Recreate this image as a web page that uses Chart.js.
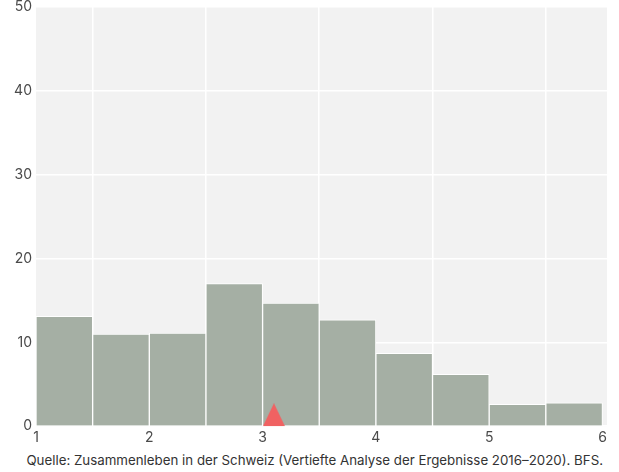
<!DOCTYPE html>
<html>
<head>
<meta charset="utf-8">
<script src="https://cdn.jsdelivr.net/npm/chart.js@4"></script>
<style>
  html, body { margin: 0; padding: 0; background: #fff; }
  #wrap { width: 619px; height: 472px; }
  #plot { position: relative; width: 619px; height: 449px; }
  #source {
    height: 23px; line-height: 23px;
    font-family: Inter, sans-serif; font-size: 13.3px; color: #333;
    text-align: right; padding-right: 16px; white-space: nowrap;
  }
</style>
</head>
<body>
<div id="wrap">
  <div id="plot"><canvas id="chart"></canvas></div>
  <div id="source"></div>
</div>
<script>
// Histogramm: Klassenmitten (Breite 0.5) und Anteile in %
const binCenters = [1.25, 1.75, 2.25, 2.75, 3.25, 3.75, 4.25, 4.75, 5.25, 5.75];
const binValues = [13.1, 11.0, 11.1, 17.0, 14.7, 12.7, 8.7, 6.2, 2.6, 2.8];
const meanValue = 3.1;
const xTicks = [1, 2, 3, 4, 5, 6];
const yTicks = [0, 10, 20, 30, 40, 50];
const sourceText = 'Quelle: Zusammenleben in der Schweiz (Vertiefte Analyse der Ergebnisse 2016–2020). BFS.';

const barColor = '#a5afa4';
const plotBg = '#f2f2f2';
const textColor = '#4a4a4a';

document.getElementById('source').textContent = sourceText;

// Dreieck als Punktbild: untere Hälfte leer, damit die Basis auf der Achse sitzt
function makeTriangle(w, h, color) {
    const c = document.createElement('canvas');
    c.width = w;
    c.height = h * 2;
    const g = c.getContext('2d');
    g.fillStyle = color;
    g.beginPath();
    g.moveTo(w / 2, 0);
    g.lineTo(w, h);
    g.lineTo(0, h);
    g.closePath();
    g.fill();
    return c;
}

const plotBackground = {
    id: 'plotBackground',
    beforeDraw(chart) {
        const { ctx, chartArea: a } = chart;
        ctx.save();
        ctx.fillStyle = plotBg;
        ctx.fillRect(a.left, a.top, a.right - a.left, a.bottom - a.top);
        ctx.restore();
    }
};

const ctx = document.getElementById('chart').getContext('2d');
new Chart(ctx, {
    type: 'bar',
    data: {
        datasets: [
            {
                type: 'scatter',
                data: [{ x: meanValue, y: 0 }],
                pointStyle: makeTriangle(22, 23, '#f06262'),
                order: 0
            },
            {
                data: binCenters.map((x, i) => ({ x, y: binValues[i] })),
                backgroundColor: barColor,
                borderColor: '#ffffff',
                borderWidth: 1,
                borderSkipped: 'bottom',
                categoryPercentage: 1,
                barPercentage: 1,
                order: 1
            }
        ]
    },
    options: {
        responsive: true,
        maintainAspectRatio: false,
        animation: false,
        layout: { padding: { top: 0, right: 12, left: 0, bottom: 0 } },
        scales: {
            x: {
                type: 'linear',
                min: 1,
                max: 6.04,
                offset: false,
                afterBuildTicks: (scale) => { scale.ticks = xTicks.map(v => ({ value: v })); },
                ticks: { color: textColor, font: { family: 'Inter', size: 14 }, padding: 3 },
                grid: { color: '#ffffff', lineWidth: 1.5, drawTicks: false },
                border: { display: false }
            },
            y: {
                min: 0,
                max: 50,
                afterBuildTicks: (scale) => { scale.ticks = yTicks.map(v => ({ value: v })); },
                afterFit: (scale) => {
                    scale.width = 36;
                    scale.paddingTop = 7;
                    scale.paddingBottom = 0;
                },
                ticks: { color: textColor, font: { family: 'Inter', size: 14 }, padding: 4 },
                grid: { color: '#ffffff', lineWidth: 1.5, drawTicks: false },
                border: { display: false }
            }
        },
        plugins: {
            legend: { display: false },
            tooltip: { enabled: false }
        }
    },
    plugins: [plotBackground]
});
</script>
</body>
</html>
